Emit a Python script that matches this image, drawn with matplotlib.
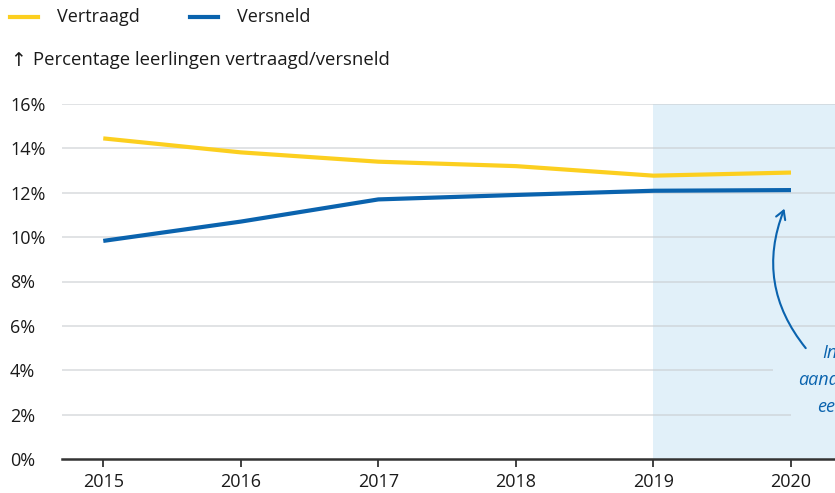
import matplotlib
matplotlib.use('Agg')
from matplotlib import pyplot as plt
from matplotlib.patches import FancyArrowPatch

plt.rcParams['font.family'] = ['Open Sans', 'DejaVu Sans']

years = [2015, 2016, 2017, 2018, 2019, 2020]
vertraagd = [14.45, 13.82, 13.4, 13.2, 12.77, 12.91]
versneld = [9.83, 10.7, 11.7, 11.9, 12.09, 12.12]
yticks = [0, 2, 4, 6, 8, 10, 12, 14, 16]
ylabels = ['0%', '2%', '4%', '6%', '8%', '10%', '12%', '14%', '16%']

yellow = '#fccf1f'
blue = '#0a63ae'
shade = '#e1f0f9'
fs = 13

fig = plt.figure(figsize=(8.35, 4.93), dpi=100)
ax = fig.add_axes([62 / 835, 34 / 493, 1 - 62 / 835, 355 / 493])
ax.set_xlim(2014.70, 2020.32)
ax.set_ylim(0, 16)

# shaded period
ax.axvspan(2019, 2021, color=shade, zorder=0, lw=0)

# gridlines (two shortened to leave room for the note)
for y in yticks[1:]:
    xmax = 2021
    if y == 4:
        xmax = 2019.87
    elif y == 2:
        xmax = 2020.0
    ax.hlines(y, 2014, xmax, color='#c8ccd0', lw=1.3, alpha=0.6, zorder=1)

ax.plot(years, vertraagd, color=yellow, lw=3, zorder=3, solid_capstyle='butt')
ax.plot(years, versneld, color=blue, lw=3, zorder=3, solid_capstyle='butt')

for s in ['top', 'right', 'left']:
    ax.spines[s].set_visible(False)
ax.spines['bottom'].set_color('#333333')
ax.spines['bottom'].set_linewidth(1.8)
ax.spines['bottom'].set_zorder(4)

ax.set_xticks(years)
ax.set_xticklabels([str(y) for y in years])
ax.set_yticks(yticks)
ax.set_yticklabels(ylabels)
ax.tick_params(axis='x', length=6, width=1.3, color='#333333', labelsize=fs,
               pad=4, labelcolor='#1a1a1a')
ax.tick_params(axis='y', length=0, labelsize=fs, pad=52 * 0.72, labelcolor='#1a1a1a')
for lab in ax.get_yticklabels():
    lab.set_horizontalalignment('left')

# legend
fig.add_artist(plt.Line2D([10 / 835, 38 / 835], [1 - 17 / 493] * 2, color=yellow, lw=3))
fig.text(57 / 835, 1 - 17 / 493, 'Vertraagd', fontsize=fs, va='center', color='#1a1a1a')
fig.add_artist(plt.Line2D([190 / 835, 218 / 835], [1 - 17 / 493] * 2, color=blue, lw=3))
fig.text(237 / 835, 1 - 17 / 493, 'Versneld', fontsize=fs, va='center', color='#1a1a1a')

fig.text(10 / 835, 1 - 61 / 493, '\u2191', fontsize=13.5, va='center', color='#1a1a1a',
         family='DejaVu Sans')
fig.text(33 / 835, 1 - 60 / 493, 'Percentage leerlingen vertraagd/versneld', fontsize=13.3,
         va='center', color='#1a1a1a')

# note with curved arrow
arrow = FancyArrowPatch((2020.12, 4.9), (2019.96, 11.4), connectionstyle='arc3,rad=-0.3',
                        arrowstyle='->,head_length=6,head_width=3.5', color=blue, lw=1.5,
                        zorder=5)
ax.add_patch(arrow)
fig.text(822 / 835, 1 - 353 / 493, 'In', fontsize=fs, style='italic', color=blue, va='center')
fig.text(798 / 835, 1 - 380 / 493, 'aand', fontsize=fs, style='italic', color=blue, va='center')
fig.text(817 / 835, 1 - 407 / 493, 'ee', fontsize=fs, style='italic', color=blue, va='center')

fig.savefig('out.png', dpi=100)
